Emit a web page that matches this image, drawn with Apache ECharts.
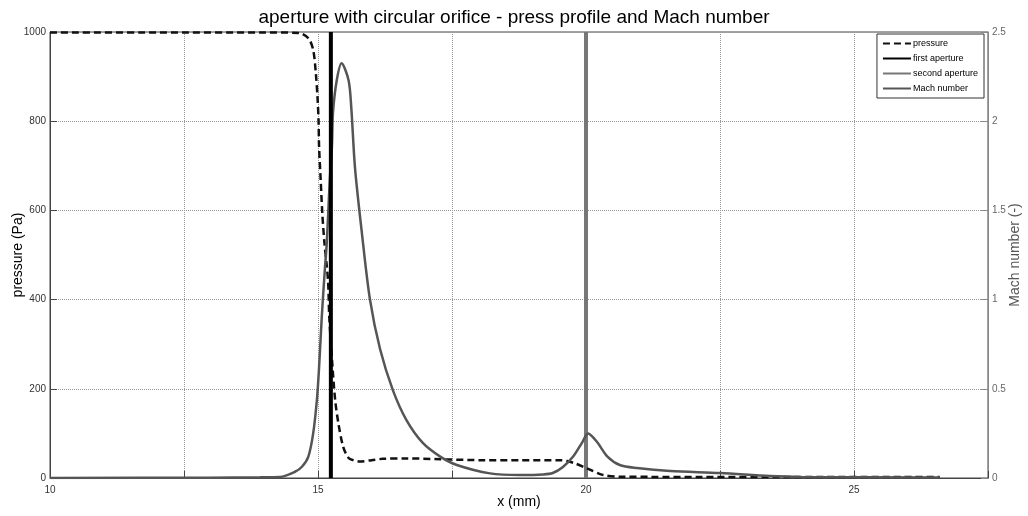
<!DOCTYPE html>
<html>
<head>
<meta charset="utf-8">
<script src="https://cdn.jsdelivr.net/npm/echarts@6/dist/echarts.min.js"></script>
<style>html,body{margin:0;padding:0;background:#fff;}#c{width:1028px;height:516px;}</style>
</head>
<body>
<div id="c"></div>
<script>
// x positions (mm) and pressure (Pa)
var pressX = [10, 12, 14, 14.63, 14.82, 14.91, 14.96, 14.99, 15.01, 15.02, 15.05, 15.08, 15.12, 15.16, 15.19, 15.21, 15.27, 15.32, 15.38, 15.47, 15.57, 15.66, 15.78, 16.0, 16.21, 16.65, 17.28, 18.08, 18.77, 19.51, 19.65, 19.79, 20.01, 20.31, 20.63, 21.2, 22.13, 24.0, 26.6];
var pressY = [999, 999, 999, 998, 986, 960, 907, 855, 803, 743, 668, 594, 527, 480, 437, 362, 250, 175, 123, 70, 45, 40, 37, 40, 43, 44, 42, 40, 40, 40, 38, 33, 22, 7, 3, 2.5, 2, 2, 2];
// x positions (mm) and Mach number (-)
var machX = [10, 12.95, 13.92, 14.29, 14.57, 14.70, 14.82, 14.91, 14.98, 15.02, 15.07, 15.13, 15.16, 15.19, 15.22, 15.26, 15.28, 15.35, 15.44, 15.57, 15.62, 15.69, 15.82, 15.97, 16.16, 16.40, 16.65, 16.96, 17.28, 17.59, 18.21, 18.77, 19.2, 19.38, 19.57, 19.76, 19.93, 20.04, 20.21, 20.40, 20.63, 20.95, 21.57, 22.5, 23.43, 23.99, 26.6];
var machY = [0, 0.002, 0.004, 0.006, 0.035, 0.063, 0.12, 0.25, 0.44, 0.62, 0.90, 1.18, 1.30, 1.48, 1.67, 1.86, 2.05, 2.23, 2.325, 2.23, 2.08, 1.74, 1.37, 1.0, 0.72, 0.49, 0.325, 0.195, 0.12, 0.073, 0.026, 0.017, 0.02, 0.028, 0.062, 0.12, 0.2, 0.25, 0.2, 0.12, 0.073, 0.056, 0.039, 0.028, 0.011, 0.006, 0.003];
var firstAperture = 15.24;
var secondAperture = 20.0;
var xTicks = [10, 15, 20, 25];

function pairs(xs, ys) { return xs.map(function (x, i) { return [x, ys[i]]; }); }

var chart = echarts.init(document.getElementById('c'), null, {renderer: 'canvas'});
var font = 'Liberation Sans, Arial, Helvetica, sans-serif';
chart.setOption({
  animation: false,
  backgroundColor: '#fff',
  textStyle: {fontFamily: font},
  title: {
    text: 'aperture with circular orifice - press profile and Mach number',
    left: 'center', top: 3,
    textStyle: {fontFamily: font, fontSize: 19, fontWeight: 'normal', color: '#000'}
  },
  legend: {
    orient: 'vertical', right: 44, top: 34,
    backgroundColor: '#fff', borderColor: '#333', borderWidth: 1,
    padding: [5, 6, 5, 5], itemGap: 6, itemWidth: 28, itemHeight: 8,
    itemStyle: {opacity: 0},
    textStyle: {fontFamily: font, fontSize: 9, color: '#000', padding: [0, 0, 0, -3]},
    data: ['pressure', 'first aperture', 'second aperture', 'Mach number']
  },
  grid: {left: 50, right: 40, top: 32, bottom: 38, show: true, borderColor: '#444', borderWidth: 1, containLabel: false, outerBoundsMode: 'none'},
  xAxis: {
    type: 'value', min: 10, max: 27.5, interval: 2.5,
    name: 'x (mm)', nameLocation: 'middle', nameGap: 17, nameMoveOverlap: false,
    nameTextStyle: {fontFamily: font, fontSize: 14, color: '#000'},
    axisLine: {lineStyle: {color: '#444'}},
    axisTick: {inside: true, length: 7, lineStyle: {color: '#444'}},
    axisLabel: {fontSize: 10, color: '#333', margin: 7, formatter: function (v) { return xTicks.indexOf(v) >= 0 ? String(v) : ''; }},
    splitLine: {show: true, lineStyle: {type: 'dotted', color: '#999'}}
  },
  yAxis: [{
    type: 'value', min: 0, max: 1000, interval: 200,
    name: 'pressure (Pa)', nameLocation: 'middle', nameGap: 25, nameMoveOverlap: false,
    nameTextStyle: {fontFamily: font, fontSize: 14, color: '#000'},
    axisLine: {show: true, lineStyle: {color: '#444'}},
    axisTick: {show: true, inside: true, length: 7, lineStyle: {color: '#444'}},
    axisLabel: {fontSize: 10, color: '#333', margin: 4, formatter: function (v) { return String(v); }},
    splitLine: {show: true, lineStyle: {type: 'dotted', color: '#999'}}
  }, {
    type: 'value', min: 0, max: 2.5, interval: 0.5,
    name: 'Mach number (-)', nameLocation: 'middle', nameGap: 20, nameMoveOverlap: false,
    nameTextStyle: {fontFamily: font, fontSize: 14, color: '#555'},
    axisLine: {show: true, lineStyle: {color: '#888'}},
    axisTick: {show: true, inside: true, length: 7, lineStyle: {color: '#888'}},
    axisLabel: {fontSize: 10, color: '#666', margin: 4},
    splitLine: {show: false}
  }],
  series: [{
    name: 'pressure', type: 'line', yAxisIndex: 0, symbol: 'none', smooth: 0.3, z: 3,
    itemStyle: {color: '#111'},
    lineStyle: {color: '#111', width: 2.5, type: [7, 4]},
    data: pairs(pressX, pressY)
  }, {
    name: 'second aperture', type: 'line', yAxisIndex: 0, symbol: 'none', z: 2,
    itemStyle: {color: '#777'},
    lineStyle: {color: '#777', width: 4},
    data: [[secondAperture, 0], [secondAperture, 1000]]
  }, {
    name: 'Mach number', type: 'line', yAxisIndex: 1, symbol: 'none', smooth: 0.3, z: 4,
    itemStyle: {color: '#555'},
    lineStyle: {color: '#555', width: 2.5},
    data: pairs(machX, machY)
  }, {
    name: 'first aperture', type: 'line', yAxisIndex: 0, symbol: 'none', z: 5,
    itemStyle: {color: '#000'},
    lineStyle: {color: '#000', width: 4},
    data: [[firstAperture, 0], [firstAperture, 1000]]
  }]
});
</script>
</body>
</html>
